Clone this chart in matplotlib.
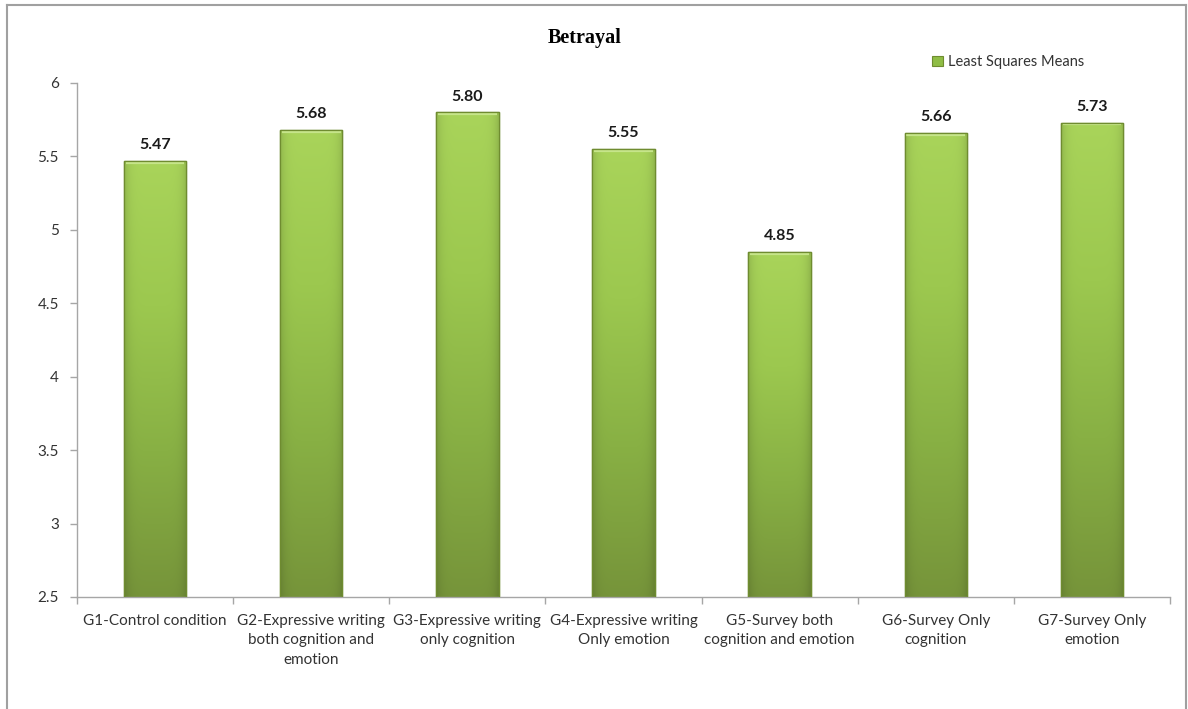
import numpy as np
import matplotlib
matplotlib.use("Agg")
import matplotlib.pyplot as plt
from matplotlib.patches import Patch
from matplotlib.lines import Line2D
from matplotlib.colors import LinearSegmentedColormap

categories = [
    "G1-Control condition",
    "G2-Expressive writing\nboth cognition and\nemotion",
    "G3-Expressive writing\nonly cognition",
    "G4-Expressive writing\nOnly emotion",
    "G5-Survey both\ncognition and emotion",
    "G6-Survey Only\ncognition",
    "G7-Survey Only\nemotion",
]
ls_means = [5.47, 5.68, 5.80, 5.55, 4.85, 5.66, 5.73]
value_labels = ["5.47", "5.68", "5.80", "5.55", "4.85", "5.66", "5.73"]
yticks = [2.5, 3, 3.5, 4, 4.5, 5, 5.5, 6]
ytick_labels = ["2.5", "3", "3.5", "4", "4.5", "5", "5.5", "6"]

plt.rcParams["font.family"] = ["Lato", "DejaVu Sans"]

fig = plt.figure(figsize=(11.88, 7.09), dpi=100)
ax = fig.add_axes([77 / 1188, 1 - 597 / 709, (1170 - 77) / 1188, (597 - 83) / 709])

x = np.arange(len(categories))
width = 0.40
ymin, ymax = 2.5, 6.0

green_cmap = LinearSegmentedColormap.from_list(
    "bar_green", ["#76943a", "#88b044", "#9cc84f", "#a9d45a"])

bars = ax.bar(x, ls_means, width=width, bottom=0, color="#96c24a",
              edgecolor="#6f8c30", linewidth=1.0, zorder=2)

# vertical gradient fill inside each bar, plus soft darker side edges
for rect in bars:
    x0 = rect.get_x()
    w = rect.get_width()
    top = rect.get_height()
    grad = np.linspace(0, 1, 256).reshape(-1, 1)
    img = np.repeat(grad, 32, axis=1)
    cols = np.linspace(-1, 1, 32)
    edge = 1 - 0.12 * (np.abs(cols) ** 6)
    rgba = green_cmap(img)
    rgba[..., :3] *= edge[None, :, None]
    im = ax.imshow(rgba, extent=[x0, x0 + w, ymin, top], origin="lower",
                   aspect="auto", zorder=2.5, interpolation="bilinear")
    im.set_clip_path(rect)
    # light bevel at top
    ax.plot([x0 + w * 0.03, x0 + w * 0.97], [top - 0.012, top - 0.012],
            color="#c6e58a", lw=1.6, zorder=3, solid_capstyle="butt")
    ax.plot([x0, x0 + w, x0 + w, x0, x0], [ymin, ymin, top, top, ymin],
            color="#6f8c30", lw=0.9, zorder=3.2)

for xi, v, lab in zip(x, ls_means, value_labels):
    ax.text(xi, v + 0.06, lab, ha="center", va="bottom", fontsize=11.5,
            fontweight="bold", color="#1a1a1a", zorder=4)

ax.set_xlim(-0.5, len(categories) - 0.5)
ax.set_ylim(ymin, ymax)
ax.set_yticks(yticks)
ax.set_yticklabels(ytick_labels)
ax.set_xticks(x)
ax.set_xticklabels(categories, fontsize=11, color="#333333", linespacing=1.5)
ax.set_xticks(np.arange(-0.5, len(categories)), minor=True)
ax.tick_params(axis="x", which="major", length=0, pad=12)
ax.tick_params(axis="x", which="minor", length=5, color="#a6a6a6", width=1)
ax.tick_params(axis="y", length=5, color="#a6a6a6", width=1, labelsize=11,
               labelcolor="#333333", pad=8)

for side in ("top", "right"):
    ax.spines[side].set_visible(False)
for side in ("left", "bottom"):
    ax.spines[side].set_color("#a6a6a6")
    ax.spines[side].set_linewidth(1)

fig.text(585 / 1188, 1 - 38 / 709, "Betrayal", ha="center", va="center",
         fontsize=14.5, fontweight="bold", family=["Liberation Serif"],
         color="#000000")

handle = Patch(facecolor="#8fbd45", edgecolor="#6f8c30", linewidth=0.8)
fig.legend([handle], ["Least Squares Means"], loc="center left",
           bbox_to_anchor=(925 / 1188, 1 - 62 / 709), frameon=False,
           fontsize=10.5, handlelength=0.75, handleheight=0.75,
           handletextpad=0.3, borderpad=0, labelcolor="#333333")

# outer frame of the chart area
frame_color = "#a0a0a0"
fig.add_artist(Line2D([7 / 1188, 7 / 1188], [0, 1 - 5 / 709], color=frame_color,
                      lw=1.5, transform=fig.transFigure))
fig.add_artist(Line2D([7 / 1188, 1186 / 1188], [1 - 5 / 709, 1 - 5 / 709],
                      color=frame_color, lw=1.5, transform=fig.transFigure))
fig.add_artist(Line2D([1186 / 1188, 1186 / 1188], [0, 1 - 5 / 709],
                      color=frame_color, lw=1.5, transform=fig.transFigure))

fig.savefig("out.png", dpi=100, facecolor="white")
